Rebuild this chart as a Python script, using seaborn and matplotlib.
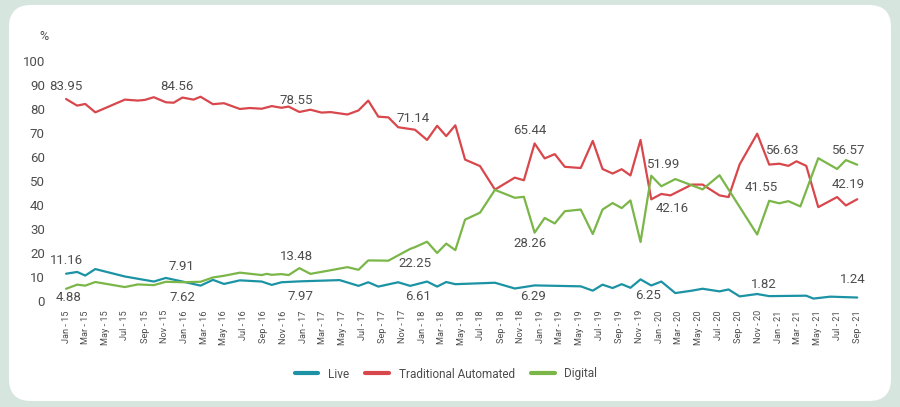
import matplotlib
matplotlib.use("Agg")
import matplotlib.pyplot as plt
from matplotlib.patches import FancyBboxPatch
import pandas as pd
import seaborn as sns

# Observation dates (irregular spacing) and channel shares in %
dates = [
    "2015-01-01", "2015-02-04", "2015-03-01", "2015-04-01", "2015-07-01", "2015-08-10",
    "2015-09-01", "2015-09-28", "2015-11-04", "2015-11-28", "2015-12-25", "2016-01-28",
    "2016-02-19", "2016-03-28", "2016-05-01", "2016-06-19", "2016-07-19", "2016-08-25",
    "2016-09-10", "2016-09-25", "2016-10-25", "2016-11-16", "2016-12-19", "2017-01-22",
    "2017-02-25", "2017-03-25", "2017-04-22", "2017-05-16", "2017-06-19", "2017-07-19",
    "2017-08-19", "2017-09-19", "2017-10-19", "2017-11-25", "2017-12-10", "2018-01-16",
    "2018-02-16", "2018-03-16", "2018-04-13", "2018-05-13", "2018-06-28", "2018-08-13",
    "2018-10-13", "2018-11-10", "2018-12-13", "2019-01-13", "2019-02-13", "2019-03-16",
    "2019-05-04", "2019-06-10", "2019-07-10", "2019-08-10", "2019-09-07", "2019-10-04",
    "2019-11-04", "2019-12-07", "2020-01-07", "2020-02-04", "2020-02-19", "2020-04-10",
    "2020-05-13", "2020-07-04", "2020-08-01", "2020-09-04", "2020-10-28", "2020-12-04",
    "2021-01-04", "2021-02-01", "2021-02-26", "2021-03-10", "2021-03-28", "2021-04-19",
    "2021-05-04", "2021-06-10", "2021-07-01", "2021-07-28", "2021-09-01",
]

traditional = [
    83.95, 81.2, 81.9, 78.4, 83.7, 83.3, 83.6, 84.7, 82.6, 82.4, 84.56, 83.7,
    84.9, 81.8, 82.2, 79.8, 80.2, 79.9, None, 81.0, 80.3, 80.8, 78.55, 79.5,
    78.3, 78.5, None, 77.5, 79.2, 83.3, 76.6, 76.3, 72.2, None, 71.14, 66.9,
    72.8, 68.5, 73.0, 58.7, 56.0, 46.2, 51.2, 50.1, 65.44, 59.2, 61.0, 55.7,
    55.2, 66.5, 54.8, 52.9, 54.7, 52.1, 66.9, 42.16, 44.4, 43.8, None, 48.3,
    48.3, 43.8, 43.1, 56.7, 69.5, 56.63, 57.0, 56.1, 58.0, None, 56.1, None,
    38.9, None, 43.1, 39.6, 42.19,
]

digital = [
    4.88, 6.6, 6.2, 7.7, 5.6, 6.7, None, 6.4, 7.8, None, 7.62, None,
    7.8, 9.6, 10.3, 11.6, None, 10.6, 11.1, 10.7, 11.0, 10.6, 13.48, 11.1,
    None, 12.6, None, 13.9, 12.8, 16.7, None, 16.6, None, 21.5, 22.25, 24.5,
    19.8, 23.7, 21.0, 33.7, 36.6, 46.1, 42.8, 43.2, 28.26, 34.4, 32.1, 37.2,
    37.9, 27.7, 37.9, 40.6, 38.5, 41.7, 24.4, 51.99, 47.6, None, 50.6, None,
    46.3, 52.2, None, None, 27.5, 41.55, 40.5, 41.4, None, 39.2, None, None,
    59.3, None, 54.8, 58.5, 56.57,
]

live = [
    11.16, 11.9, 10.4, 13.1, 10.0, None, None, 7.9, 9.4, None, 7.91, None,
    6.2, 8.6, 6.9, 8.4, None, 7.9, None, 6.5, 7.6, None, 7.97, None,
    None, None, 8.5, None, 6.1, 7.6, 5.8, None, 7.6, 6.1, 6.61, 7.9,
    5.8, 7.7, 6.8, None, None, 7.4, 5.0, None, 6.29, None, None, None,
    5.9, 4.1, 6.6, 5.2, 6.8, 5.3, 8.8, 6.25, 7.9, None, 3.1, 4.1,
    4.9, 3.8, 4.6, 1.7, 2.7, 1.82, None, None, None, None, 2.0, 0.8,
    None, 1.6, None, None, 1.24,
]

# Dates whose values carry a printed label
labelled_dates = ["2015-01-01", "2015-12-25", "2016-12-19", "2017-12-10",
                  "2018-12-13", "2019-12-07", "2020-12-04", "2021-09-01"]

channels = ["Live", "Traditional Automated", "Digital"]
colors = {"Live": "#1c93a4", "Traditional Automated": "#d8474c", "Digital": "#7ab648"}

# Label placement (dx, dy) in pixels relative to the point, per labelled date
label_offsets = {
    "Traditional Automated": [(0, 13), (-5, 11), (-3, 11), (-2, 11), (-5, 13), (21, -9), (13, 14), (-9, 15)],
    "Digital": [(3, -9), (0, -15), (-3, 12), (0, -16), (-5, -11), (12, 11), (-8, 13), (-9, 14)],
    "Live": [(0, 13), (-1, 15), (1, -15), (3, -12), (-2, -11), (-3, -10), (-5, 12), (-5, 18)],
}

wide = pd.DataFrame({
    "date": pd.to_datetime(dates),
    "Live": pd.to_numeric(pd.Series(live), errors="coerce"),
    "Traditional Automated": pd.to_numeric(pd.Series(traditional), errors="coerce"),
    "Digital": pd.to_numeric(pd.Series(digital), errors="coerce"),
})
long = wide.melt(id_vars="date", var_name="channel", value_name="share").dropna()

sns.set_theme(style="white")
plt.rcParams["font.family"] = ["Roboto", "DejaVu Sans"]
text_color = "#4d4d4d"

W, H, DPI = 900, 407, 100
fig = plt.figure(figsize=(W / DPI, H / DPI), dpi=DPI)
fig.patch.set_facecolor("#d7e5df")

# White rounded card behind the chart
card = FancyBboxPatch((9 / DPI, 6 / DPI), 882 / DPI, 396 / DPI,
                      boxstyle="round,pad=0,rounding_size=0.22",
                      transform=fig.dpi_scale_trans, facecolor="white",
                      edgecolor="none", zorder=0)
fig.add_artist(card)

ax = fig.add_axes([56 / W, (H - 300.5) / H, 811 / W, 240 / H])
ax.set_facecolor("none")

sns.lineplot(data=long, x="date", y="share", hue="channel", hue_order=channels,
             palette=colors, estimator=None, sort=True, linewidth=1.6, ax=ax)

ax.set_xlim(pd.Timestamp("2014-12-01"), pd.Timestamp("2021-10-01"))
ax.set_ylim(0, 100)
ax.set_xlabel("")
ax.set_ylabel("")

ticks = pd.date_range("2015-01-01", "2021-09-01", freq="2MS")
ax.set_xticks(ticks)
ax.set_xticklabels([t.strftime("%b - %y") for t in ticks], rotation=90,
                   fontsize=6.6, color=text_color)
ax.set_yticks(range(0, 101, 10))
ax.set_yticklabels([str(v) for v in range(0, 101, 10)], fontsize=9.5, color=text_color)
ax.tick_params(axis="both", length=0)
ax.tick_params(axis="x", pad=7)
ax.tick_params(axis="y", pad=8)
for s in ax.spines.values():
    s.set_visible(False)

fig.text(44 / W, 1 - 36 / H, "%", ha="center", va="center", fontsize=9, color=text_color)

# Value labels
px2pt = 72 / DPI
for ch in channels:
    for (d, (dx, dy)) in zip(labelled_dates, label_offsets[ch]):
        row = wide.loc[wide["date"] == pd.Timestamp(d)].iloc[0]
        v = row[ch]
        ax.annotate(f"{v:.2f}", xy=(row["date"], v), xytext=(dx * px2pt, dy * px2pt),
                    textcoords="offset points", ha="center", va="center",
                    fontsize=9.5, color=text_color)

handles, labels = ax.get_legend_handles_labels()
leg = ax.legend(handles, labels, loc="center", bbox_to_anchor=(446 / W, 1 - 374 / H),
                bbox_transform=fig.transFigure, ncol=3, frameon=False,
                handlelength=2.0, handletextpad=0.8, columnspacing=1.4,
                fontsize=8.5)
for t in leg.get_texts():
    t.set_color(text_color)
for ln in leg.get_lines():
    ln.set_linewidth(3)

fig.savefig("out.png", dpi=DPI, facecolor=fig.get_facecolor())
